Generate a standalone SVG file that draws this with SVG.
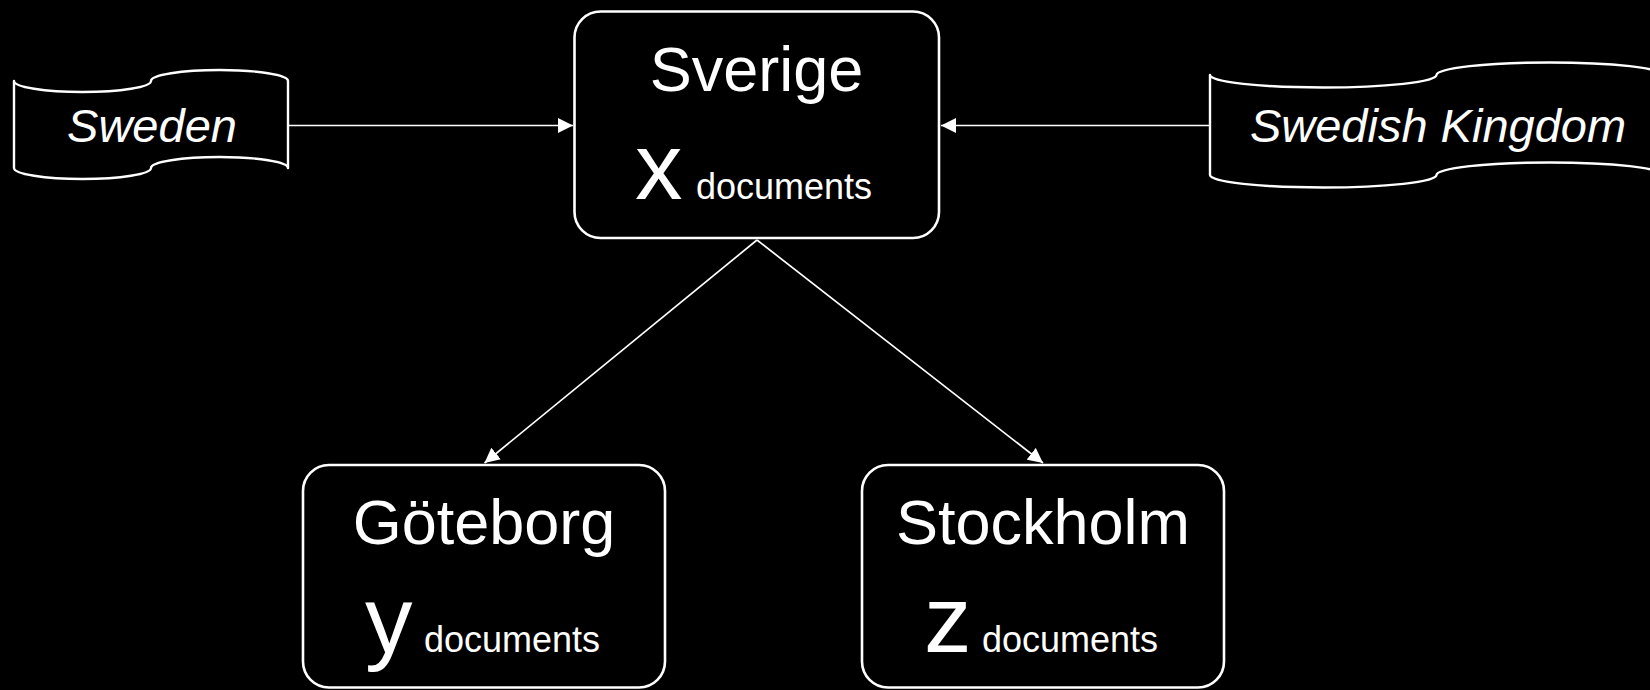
<svg xmlns="http://www.w3.org/2000/svg" width="1650" height="690" viewBox="0 0 1650 690">
<style>
.box{fill:#000;stroke:#fff;stroke-width:2.6}
.flag{fill:#000;stroke:#fff;stroke-width:2.4;stroke-linejoin:round}
.con{stroke:#fff;stroke-width:1.7;fill:none}
text{font-family:"Liberation Sans",Arial,sans-serif;fill:#fff}
.title{font-size:63px;text-anchor:middle}
.big{font-size:95px}
.small{font-size:36px}
.syn{font-size:47px;font-style:italic;text-anchor:middle}
</style>
<defs>
<marker id="arr" markerUnits="userSpaceOnUse" markerWidth="15" markerHeight="15" refX="15" refY="7.5" orient="auto">
<path d="M0,0 L15,7.5 L0,15 Z" fill="#fff"/>
</marker>
</defs>
<rect x="0" y="0" width="1650" height="690" fill="#000"/>
<g id="connectors">
<line class="con" x1="288" y1="125.5" x2="573" y2="125.5" marker-end="url(#arr)"/>
<line class="con" x1="1210" y1="125.5" x2="941" y2="125.5" marker-end="url(#arr)"/>
<line class="con" x1="757" y1="240" x2="484.5" y2="463" marker-end="url(#arr)"/>
<line class="con" x1="757" y1="240" x2="1043" y2="463" marker-end="url(#arr)"/>
</g>
<g id="node-sweden">
<path class="flag" d="M14,81 A68.5,11 0 0 0 151,81 A68.5,11 0 0 1 288,81 L288,168 A68.5,11 0 0 0 151,168 A68.5,11 0 0 1 14,168 Z"/>
<text class="syn" x="152" y="141.5">Sweden</text>
</g>
<g id="node-swedish-kingdom">
<path class="flag" d="M1210,75 A113.25,12.5 0 0 0 1436.5,75 A113.25,12.5 0 0 1 1663,75 L1663,175 A113.25,12.5 0 0 0 1436.5,175 A113.25,12.5 0 0 1 1210,175 Z"/>
<text class="syn" x="1438" y="141.5">Swedish Kingdom</text>
</g>
<g id="node-sverige">
<rect class="box" x="574.5" y="11.5" width="364.5" height="226.5" rx="26" ry="26"/>
<text class="title" x="756.5" y="91">Sverige</text>
<text y="199"><tspan class="big" x="635">x</tspan><tspan class="small" x="696">documents</tspan></text>
</g>
<g id="node-goteborg">
<rect class="box" x="303" y="465" width="362" height="222.5" rx="26" ry="26"/>
<text class="title" x="484" y="544">Göteborg</text>
<text y="652"><tspan class="big" x="365">y</tspan><tspan class="small" x="424">documents</tspan></text>
</g>
<g id="node-stockholm">
<rect class="box" x="862" y="465" width="362" height="222.5" rx="26" ry="26"/>
<text class="title" x="1043" y="544">Stockholm</text>
<text y="652"><tspan class="big" x="924">z</tspan><tspan class="small" x="982">documents</tspan></text>
</g>
</svg>
